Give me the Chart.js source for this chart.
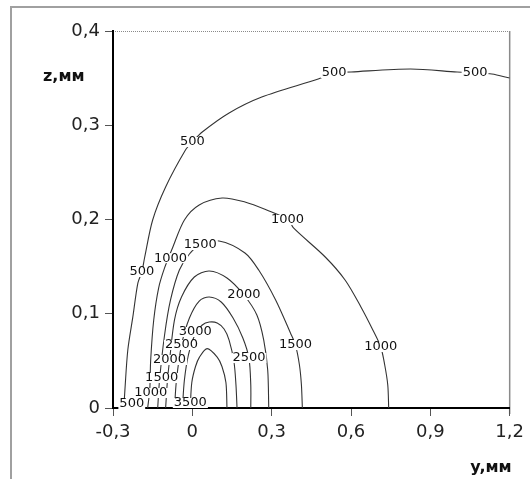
<!DOCTYPE html>
<html lang="ru">
<head>
  <meta charset="UTF-8" />
  <title>Изотермы</title>
  <script src="https://cdn.jsdelivr.net/npm/chart.js"></script>
  <style>
    html, body { margin: 0; padding: 0; background: #fff; }
    #chart { display: block; }
  </style>
</head>
<body>
  <canvas id="chart" width="530" height="479"></canvas>

  <script>
    // Оси
    const xTickLabels = ["-0,3", "0", "0,3", "0,6", "0,9", "1,2"];
    const yTickLabels = ["0", "0,1", "0,2", "0,3", "0,4"];

    // Изолинии (y, z в мм)
    const y500 = [-0.259, -0.255, -0.244, -0.225, -0.206, -0.191, -0.18, -0.15, -0.101, -0.026, 0.0, 0.0375, 0.139, 0.2625, 0.476, 0.536, 0.6, 0.825, 1.001, 1.069, 1.1325, 1.2];
    const z500 = [0, 0.019, 0.0615, 0.0966, 0.1326, 0.1443, 0.1602, 0.1995, 0.2345, 0.2737, 0.2822, 0.2928, 0.313, 0.3299, 0.349, 0.3554, 0.3565, 0.3597, 0.3565, 0.3554, 0.3544, 0.3501];

    const y1000 = [-0.169, -0.161, -0.1575, -0.146, -0.1275, -0.105, -0.075, -0.03, 0.026, 0.1125, 0.199, 0.281, 0.364, 0.3825, 0.5025, 0.5775, 0.6375, 0.6825, 0.7125, 0.7275, 0.739, 0.7425];
    const z1000 = [0, 0.0191, 0.0509, 0.0934, 0.1273, 0.1486, 0.1698, 0.1995, 0.2154, 0.2228, 0.2186, 0.2101, 0.1995, 0.191, 0.1602, 0.1358, 0.1072, 0.0828, 0.0647, 0.0456, 0.0244, 0];

    const y1500 = [-0.131, -0.124, -0.105, -0.0825, -0.049, -0.011, 0.03, 0.101, 0.199, 0.251, 0.315, 0.371, 0.39, 0.405, 0.4125, 0.416];
    const z1500 = [0, 0.0297, 0.0775, 0.1146, 0.1464, 0.1634, 0.1729, 0.1772, 0.1645, 0.1464, 0.1146, 0.0796, 0.0668, 0.0456, 0.0244, 0];

    const y2000 = [-0.101, -0.094, -0.086, -0.0675, -0.041, 0.0075, 0.064, 0.131, 0.195, 0.244, 0.27, 0.285, 0.289];
    const z2000 = [0, 0.0297, 0.0509, 0.0934, 0.1178, 0.139, 0.1454, 0.1379, 0.1199, 0.0987, 0.0721, 0.0403, 0];

    const y2500 = [-0.0675, -0.06, -0.041, -0.011, 0.026, 0.064, 0.109, 0.154, 0.191, 0.214, 0.221, 0.221];
    const z2500 = [0, 0.0297, 0.0668, 0.0955, 0.1135, 0.1178, 0.1125, 0.0955, 0.0743, 0.053, 0.0244, 0];

    const y3000 = [-0.0375, -0.03, -0.015, 0.011, 0.0375, 0.064, 0.094, 0.12, 0.139, 0.1575, 0.165, 0.169];
    const z3000 = [0, 0.0297, 0.0562, 0.0785, 0.0881, 0.0912, 0.0902, 0.0838, 0.0721, 0.0488, 0.0244, 0];

    const y3500 = [-0.008, -0.002, 0.012, 0.027, 0.056, 0.094, 0.112, 0.127, 0.131];
    const z3500 = [0, 0.027, 0.044, 0.054, 0.063, 0.054, 0.044, 0.027, 0];

    // Подписи изолиний
    const labelText = ["500", "500", "500", "500", "500", "1000", "1000", "1000", "1000", "1500", "1500", "1500", "2000", "2000", "2500", "2500", "3000", "3500"];
    const labelY = [-0.229, -0.191, 0.0, 0.536, 1.069, -0.1575, -0.0825, 0.36, 0.7125, -0.116, 0.03, 0.39, -0.086, 0.195, -0.041, 0.214, 0.011, -0.0075];
    const labelZ = [0.0042, 0.1443, 0.2822, 0.3554, 0.3554, 0.0159, 0.159, 0.1995, 0.0647, 0.0318, 0.1729, 0.0668, 0.0509, 0.1199, 0.0668, 0.053, 0.0806, 0.0053];

    const contours = [[y500, z500], [y1000, z1000], [y1500, z1500], [y2000, z2000], [y2500, z2500], [y3000, z3000], [y3500, z3500]];

    const datasets = contours.map(([ys, zs]) => ({
      data: ys.map((y, i) => ({ x: y, y: zs[i] })),
      showLine: true,
      borderColor: "#333",
      borderWidth: 1.1,
      pointRadius: 0,
      tension: 0.3,
      fill: false
    }));

    const decor = {
      id: "decor",
      beforeDraw(chart) {
        const c = chart.ctx;
        const a = chart.chartArea;
        c.save();
        // рамка вокруг рисунка
        c.strokeStyle = "#a0a0a0";
        c.lineWidth = 2;
        c.beginPath();
        c.moveTo(11, 479);
        c.lineTo(11, 7);
        c.lineTo(530, 7);
        c.stroke();
        // верх и правая граница поля графика
        c.strokeStyle = "#8a8a8a";
        c.lineWidth = 1;
        c.setLineDash([1, 1]);
        c.beginPath();
        c.moveTo(a.left, a.top + 0.5);
        c.lineTo(a.right, a.top + 0.5);
        c.stroke();
        c.setLineDash([]);
        c.lineWidth = 1.5;
        c.beginPath();
        c.moveTo(a.right, a.top);
        c.lineTo(a.right, a.bottom + 6);
        c.stroke();
        c.restore();
      },
      afterDatasetsDraw(chart) {
        const c = chart.ctx;
        const xs = chart.scales.x, ys = chart.scales.y;
        c.save();
        c.font = "13px 'DejaVu Sans'";
        c.textAlign = "center";
        c.textBaseline = "middle";
        labelText.forEach((t, i) => {
          const px = xs.getPixelForValue(labelY[i]);
          const py = ys.getPixelForValue(labelZ[i]);
          const w = c.measureText(t).width;
          c.fillStyle = "#fff";
          c.fillRect(px - w / 2 - 1, py - 5, w + 2, 10);
          c.fillStyle = "#111";
          c.fillText(t, px, py);
        });
        c.restore();
      },
      afterDraw(chart) {
        const c = chart.ctx;
        const a = chart.chartArea;
        c.save();
        c.fillStyle = "#111";
        c.font = "bold 16px 'DejaVu Sans'";
        c.textBaseline = "alphabetic";
        c.textAlign = "left";
        c.fillText("z,мм", 43, a.top + 50);
        c.textAlign = "right";
        c.fillText("y,мм", a.right + 2, 472);
        c.restore();
      }
    };

    new Chart(document.getElementById("chart"), {
      type: "scatter",
      data: { datasets },
      options: {
        responsive: false,
        animation: false,
        layout: { padding: { top: 31, right: 17, left: 0, bottom: 0 } },
        plugins: { legend: { display: false }, tooltip: { enabled: false } },
        scales: {
          x: {
            type: "linear",
            min: -0.3,
            max: 1.2,
            z: 1,
            afterFit: s => { s.height = 71; },
            afterBuildTicks: s => { s.ticks = xTickLabels.map((_, i) => ({ value: -0.3 + 0.3 * i })); },
            ticks: {
              callback: (v, i) => xTickLabels[i],
              font: { family: "DejaVu Sans", size: 18 },
              color: "#222",
              padding: 6,
              maxRotation: 0
            },
            grid: { drawOnChartArea: false, tickLength: 8, color: "#555" },
            border: { color: "#000", width: 2 }
          },
          y: {
            type: "linear",
            min: 0,
            max: 0.4,
            z: 1,
            afterFit: s => { s.width = 113; },
            afterBuildTicks: s => { s.ticks = yTickLabels.map((_, i) => ({ value: 0.1 * i })); },
            ticks: {
              callback: (v, i) => yTickLabels[i],
              font: { family: "DejaVu Sans", size: 18 },
              color: "#222",
              padding: 5
            },
            grid: { drawOnChartArea: false, tickLength: 8, color: "#555" },
            border: { color: "#000", width: 2 }
          }
        }
      },
      plugins: [decor]
    });
  </script>
</body>
</html>
